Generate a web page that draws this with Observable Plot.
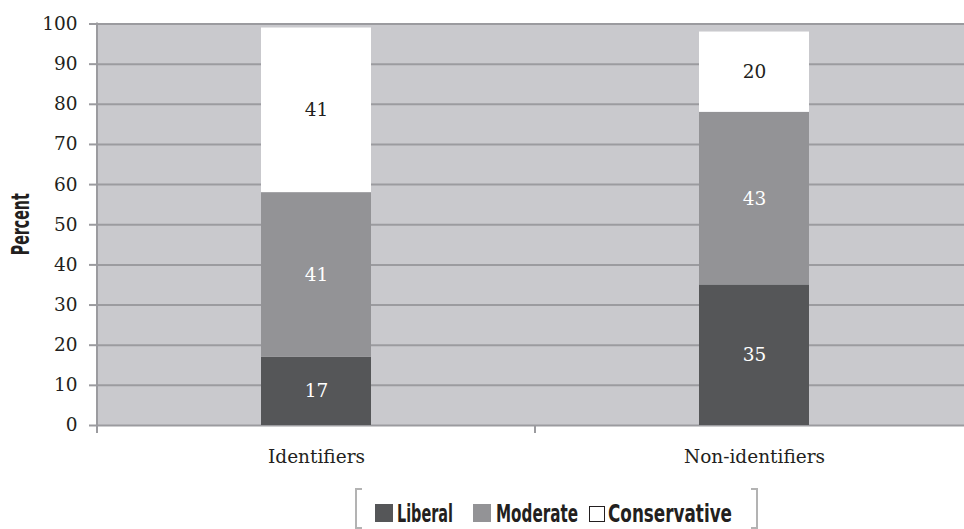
<!DOCTYPE html>
<html>
<head>
<meta charset="utf-8">
<script src="https://cdn.jsdelivr.net/npm/d3@7"></script>
<script src="https://cdn.jsdelivr.net/npm/@observablehq/plot@0.6"></script>
<style>
  html, body { margin: 0; padding: 0; background: white; }
  #chart svg { display: block; }
  #legend svg { display: block; }
</style>
</head>
<body>
<div id="chart"></div>
<div id="legend"></div>
<script>
// ---- data ----
const groups = ["Identifiers", "Non-identifiers"];
const series = ["Liberal", "Moderate", "Conservative"];
const liberal = [17, 35];
const moderate = [41, 43];
const conservative = [41, 20];
const yTicks = [0, 10, 20, 30, 40, 50, 60, 70, 80, 90, 100];
const yLabel = "Percent";

// ---- styles ----
const fills = {Liberal: "#555658", Moderate: "#939396", Conservative: "#ffffff"};
const textFills = {Liberal: "#ffffff", Moderate: "#ffffff", Conservative: "#231f20"};
const bg = "#c9c9cd";
const gridColor = "#9b9b9f";
const inkColor = "#231f20";

const values = {Liberal: liberal, Moderate: moderate, Conservative: conservative};
const rows = [];
groups.forEach((g, i) => {
  series.forEach(s => rows.push({group: g, party: s, value: values[s][i]}));
});

const W = 964, H = 480;
const chart = Plot.plot({
  width: W,
  height: H,
  marginLeft: 97,
  marginRight: 0,
  marginTop: 23.5,
  marginBottom: 55,
  style: {fontFamily: "'DejaVu Serif', serif", fontSize: "18.5px", color: inkColor, background: "white"},
  x: {domain: groups, range: [97, 973], paddingInner: 0.75, paddingOuter: 0.375, label: null},
  y: {domain: [0, 100], label: null},
  color: {type: "identity"},
  marks: [
    Plot.frame({fill: bg, stroke: null}),
    Plot.gridY(yTicks, {stroke: gridColor, strokeOpacity: 1, strokeWidth: 2}),
    Plot.axisY(yTicks, {tickSize: 8, tickPadding: 12, stroke: gridColor, strokeWidth: 2, fill: inkColor, label: null}),
    Plot.axisX({tickSize: 0, tickPadding: 24, fill: inkColor, label: null}),
    Plot.barY(rows, Plot.stackY({x: "group", y: "value", fill: d => fills[d.party]})),
    Plot.text(rows, Plot.stackY({x: "group", y: "value", text: d => String(d.value), fill: d => textFills[d.party], fontSize: 18.5}))
  ]
});

// boundary ticks on the category axis, the left axis line, and the y label
const svg = d3.select(chart);
const xs = chart.scale("x");
const ys = chart.scale("y");
const step = xs.step;
const y0 = ys.apply(0);
const y100 = ys.apply(100);
const bounds = groups.map(g => xs.apply(g) + xs.bandwidth / 2 - step / 2);
bounds.push(bounds[bounds.length - 1] + step);
svg.append("g").selectAll("line").data(bounds).join("line")
  .attr("x1", d => d).attr("x2", d => d)
  .attr("y1", y0).attr("y2", y0 + 8)
  .attr("stroke", gridColor).attr("stroke-width", 2);
svg.append("line")
  .attr("x1", 97).attr("x2", 97)
  .attr("y1", y100 - 1).attr("y2", y0 + 8)
  .attr("stroke", gridColor).attr("stroke-width", 2);
svg.append("text")
  .attr("transform", `translate(29,${(y0 + y100) / 2}) rotate(-90)`)
  .attr("text-anchor", "middle")
  .attr("font-family", "'Liberation Sans Narrow', 'DejaVu Sans Condensed', sans-serif")
  .attr("font-weight", "bold")
  .attr("font-size", 24)
  .attr("textLength", 62)
  .attr("lengthAdjust", "spacingAndGlyphs")
  .attr("fill", inkColor)
  .text(yLabel);

document.getElementById("chart").appendChild(chart);

// ---- legend (below the SVG) ----
const leg = d3.select("#legend").append("svg")
  .attr("width", W).attr("height", 49);
const bracketColor = "#b3b3b3";
leg.append("path")
  .attr("d", "M362,9 H356 V48 H362")
  .attr("fill", "none").attr("stroke", bracketColor).attr("stroke-width", 2);
leg.append("path")
  .attr("d", "M751,9 H757 V48 H751")
  .attr("fill", "none").attr("stroke", bracketColor).attr("stroke-width", 2);
const legItems = [
  {name: series[0], x: 375, size: 18, tx: 397, tl: 56},
  {name: series[1], x: 473, size: 18, tx: 496, tl: 82},
  {name: series[2], x: 589, size: 15, tx: 608, tl: 124}
];
legItems.forEach(it => {
  leg.append("rect")
    .attr("x", it.size === 18 ? it.x : it.x + 0.5)
    .attr("y", it.size === 18 ? 24 : 26.5)
    .attr("width", it.size).attr("height", it.size)
    .attr("fill", fills[it.name])
    .attr("stroke", it.name === "Conservative" ? inkColor : "none")
    .attr("stroke-width", 1);
  leg.append("text")
    .attr("x", it.tx).attr("y", 42)
    .attr("font-family", "'Liberation Sans Narrow', 'DejaVu Sans Condensed', sans-serif")
    .attr("font-weight", "bold")
    .attr("font-size", 24)
    .attr("textLength", it.tl)
    .attr("lengthAdjust", "spacingAndGlyphs")
    .attr("fill", inkColor)
    .text(it.name);
});
</script>
</body>
</html>
